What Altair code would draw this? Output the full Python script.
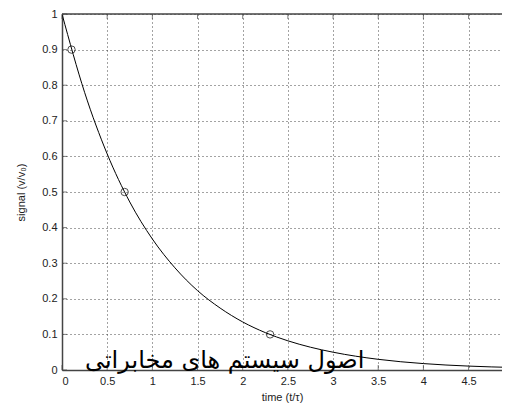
import altair as alt
import pandas as pd

# curve
t_vals = [0, 0.25, 0.5, 0.75, 1.0, 1.25, 1.5, 1.75, 2.0, 2.25, 2.5, 2.75, 3.0, 3.5, 4.0, 4.5, 5.0]
sig_vals = [1.0, 0.78, 0.607, 0.472, 0.368, 0.287, 0.223, 0.174, 0.135, 0.105, 0.082, 0.064, 0.050, 0.030, 0.018, 0.011, 0.007]

# marked points
pt_t = [0.105, 0.693, 2.303]
pt_s = [0.9, 0.5, 0.1]

x_ticks = [0, 0.5, 1, 1.5, 2, 2.5, 3, 3.5, 4, 4.5]
y_ticks = [0, 0.1, 0.2, 0.3, 0.4, 0.5, 0.6, 0.7, 0.8, 0.9, 1.0]

label_text = "اصول سیستم های مخابراتی"

curve = pd.DataFrame({"t": t_vals, "s": sig_vals})
pts = pd.DataFrame({"t": pt_t, "s": pt_s})
xt = pd.DataFrame({"t": x_ticks})
yt = pd.DataFrame({"s": y_ticks})

xs = alt.Scale(domain=[0, 4.87], nice=False, zero=False)
ys = alt.Scale(domain=[0, 1], nice=False)

xaxis = alt.Axis(values=x_ticks, format="~g", title="time (t/τ)", grid=True,
                 gridDash=[1, 3], gridColor="#333333", gridOpacity=0.9,
                 domainColor="#444444", domainWidth=1.5, tickSize=0,
                 labelPadding=5, labelFontSize=11, labelColor="#222222",
                 labelFont="Liberation Sans", titleFont="Liberation Sans",
                 titleFontSize=11, titleFontWeight="normal", titleColor="#222222",
                 titlePadding=5, labelOverlap=False)
yaxis = alt.Axis(values=y_ticks, format="~g", title="signal (v/v₀)", grid=True,
                 gridDash=[1, 3], gridColor="#333333", gridOpacity=0.9,
                 domainColor="#444444", domainWidth=1.5, tickSize=0,
                 labelPadding=5, labelFontSize=11, labelColor="#222222",
                 labelFont="Liberation Sans", titleFont="Liberation Sans",
                 titleFontSize=11, titleFontWeight="normal", titleColor="#222222",
                 titlePadding=15, labelOverlap=False)

X = lambda: alt.X("t:Q", scale=xs, axis=xaxis)
Y = lambda: alt.Y("s:Q", scale=ys, axis=yaxis)

line = alt.Chart(curve).mark_line(color="black", strokeWidth=1, interpolate="monotone", clip=True).encode(
    x=X(), y=Y(),
)

points = alt.Chart(pts).mark_point(shape="circle", filled=False, color="black", size=55, strokeWidth=1).encode(
    x=X(), y=Y(),
)

top = alt.Chart(pd.DataFrame({"s": [1.0]})).mark_rule(color="#444444", strokeWidth=1.5).encode(
    y=Y(), x=alt.value(0), x2=alt.value(440)
)

xticks_bottom = alt.Chart(xt).mark_tick(color="#444444", size=5, thickness=1, yOffset=-2.5, orient="vertical").encode(
    x=X(), y=alt.value(356)
)
xticks_top = alt.Chart(xt).mark_tick(color="#444444", size=5, thickness=1, yOffset=2.5, orient="vertical").encode(
    x=X(), y=alt.value(0)
)
yticks_left = alt.Chart(yt).mark_tick(color="#444444", size=5, thickness=1, xOffset=2.5, orient="horizontal").encode(
    y=Y(), x=alt.value(0)
)

text = alt.Chart(pd.DataFrame({"t": [1.8], "s": [0.006], "label": [label_text]})).mark_text(
    font="DejaVu Sans", fontSize=24, color="black", baseline="alphabetic", align="center"
).encode(
    x=X(), y=Y(), text="label:N"
)

chart = alt.layer(line, top, xticks_bottom, xticks_top, yticks_left, points, text).properties(
    width=440, height=356,
    padding={"left": 54, "top": 6, "right": 0, "bottom": 34},
    autosize=alt.AutoSizeParams(type="none"),
    background="white",
).configure_view(stroke=None)

chart.save("out.html", embed_options={"renderer": "svg", "actions": False})
